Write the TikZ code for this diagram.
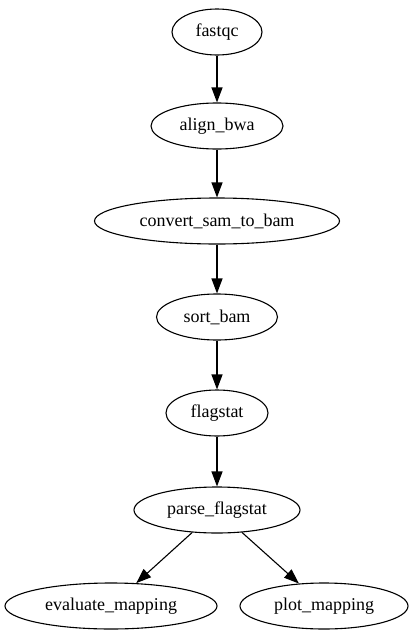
\documentclass[tikz,border=0pt]{standalone}
\usepackage{fontspec}
\setmainfont{Liberation Serif}
\usetikzlibrary{shapes.geometric,arrows.meta}
\begin{document}
\begin{tikzpicture}[x=1pt,y=-1pt,
  nd/.style={ellipse,draw,line width=1.1pt,minimum height=46pt,inner sep=0pt,font=\fontsize{18}{21}\selectfont},
  edge/.style={line width=1.1pt,-{Triangle[length=15pt,width=11pt]}}]
\useasboundingbox (0,0) rectangle (413,635);
\node[nd,minimum width=90pt]  (fastqc)  at (217,32)    {fastqc};
\node[nd,minimum width=132pt] (align)   at (217,126)   {align\_bwa};
\node[nd,minimum width=245pt] (convert) at (217,221)   {convert\_sam\_to\_bam};
\node[nd,minimum width=121pt] (sort)    at (217,317)   {sort\_bam};
\node[nd,minimum width=102pt] (flag)    at (217,413)   {flagstat};
\node[nd,minimum width=166pt] (parse)   at (217,510)   {parse\_flagstat};
\node[nd,minimum width=212pt] (eval)    at (111,606)   {evaluate\_mapping};
\node[nd,minimum width=168pt] (plot)    at (324,606)   {plot\_mapping};
\draw[edge] (fastqc) -- (align);
\draw[edge] (align) -- (convert);
\draw[edge] (convert) -- (sort);
\draw[edge] (sort) -- (flag);
\draw[edge] (flag) -- (parse);
\draw[edge] (parse) -- (eval);
\draw[edge] (parse) -- (plot);
\end{tikzpicture}
\end{document}
